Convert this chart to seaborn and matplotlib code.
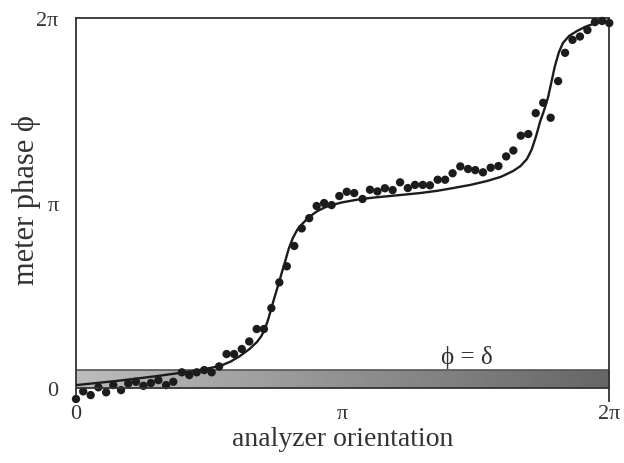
import numpy as np
import pandas as pd
import matplotlib
matplotlib.use("Agg")
import matplotlib.pyplot as plt
import seaborn as sns

# ---- data (angles in units of pi) ----
dot_x = [0.000, 0.027, 0.055, 0.084, 0.113, 0.140, 0.169, 0.196, 0.225, 0.253,
         0.281, 0.309, 0.338, 0.365, 0.397, 0.425, 0.453, 0.481, 0.509, 0.537,
         0.565, 0.593, 0.622, 0.650, 0.678, 0.705, 0.733, 0.763, 0.791, 0.819,
         0.847, 0.875, 0.903, 0.931, 0.959, 0.988, 1.016, 1.044, 1.075, 1.103,
         1.131, 1.159, 1.188, 1.216, 1.245, 1.272, 1.301, 1.328, 1.357, 1.385,
         1.413, 1.442, 1.471, 1.498, 1.527, 1.556, 1.585, 1.614, 1.641, 1.669,
         1.697, 1.725, 1.753, 1.781, 1.809, 1.835, 1.863, 1.891, 1.919, 1.947,
         1.974, 2.001]
dot_y = [-0.059, -0.018, -0.038, 0.004, -0.023, 0.016, -0.011, 0.025, 0.034, 0.012,
         0.027, 0.043, 0.016, 0.034, 0.085, 0.070, 0.085, 0.097, 0.085, 0.117,
         0.184, 0.184, 0.211, 0.252, 0.319, 0.319, 0.432, 0.571, 0.658, 0.768,
         0.863, 0.918, 0.984, 1.000, 0.989, 1.038, 1.061, 1.054, 1.022, 1.072,
         1.063, 1.080, 1.070, 1.112, 1.081, 1.098, 1.098, 1.096, 1.126, 1.126,
         1.161, 1.198, 1.184, 1.178, 1.166, 1.191, 1.200, 1.252, 1.284, 1.364,
         1.373, 1.486, 1.542, 1.461, 1.659, 1.812, 1.882, 1.900, 1.935, 1.978,
         1.984, 1.973]

fit_x = [0.000, 0.150, 0.300, 0.450, 0.540, 0.580, 0.615, 0.650, 0.679, 0.695,
         0.709, 0.722, 0.734, 0.748, 0.762, 0.773, 0.784, 0.798, 0.814, 0.830,
         0.848, 0.875, 0.904, 0.930, 0.953, 1.000, 1.066, 1.120, 1.178, 1.235,
         1.291, 1.355, 1.415, 1.480, 1.542, 1.595, 1.640, 1.668, 1.692, 1.710,
         1.726, 1.741, 1.756, 1.771, 1.784, 1.797, 1.812, 1.827, 1.850, 1.880,
         1.910, 1.940, 1.970, 2.000]
fit_y = [0.016, 0.038, 0.064, 0.094, 0.119, 0.143, 0.173, 0.210, 0.249, 0.280,
         0.319, 0.375, 0.438, 0.505, 0.573, 0.628, 0.681, 0.752, 0.812, 0.855,
         0.886, 0.925, 0.955, 0.974, 0.987, 1.004, 1.021, 1.030, 1.038, 1.046,
         1.054, 1.066, 1.081, 1.098, 1.119, 1.142, 1.173, 1.200, 1.238, 1.290,
         1.360, 1.438, 1.500, 1.570, 1.655, 1.741, 1.815, 1.865, 1.903, 1.930,
         1.952, 1.968, 1.979, 1.986]

delta = 0.097          # band height (units of pi)
major_pos = [0, 0.5, 1, 1.5, 2]
major_labels = ["0", "", "π", "", "2π"]

dots = pd.DataFrame({"x": dot_x, "y": dot_y})
fit = pd.DataFrame({"x": fit_x, "y": fit_y})

sns.set_theme(style="white")
plt.rcParams["font.family"] = ["Liberation Serif", "DejaVu Serif"]

fig = plt.figure(figsize=(6.24, 4.64), dpi=100)
ax = fig.add_axes([0.1218, 0.1336, 0.976 - 0.1218, 0.959 - 0.1336])

ink = "#1c1c1c"
gray = "#333333"

# shaded band phi = delta (gradient)
grad = np.linspace(0.74, 0.40, 256).reshape(1, -1)
ax.imshow(grad, extent=[0, 2, 0, delta], aspect="auto", cmap="gray",
          vmin=0, vmax=1, zorder=1, interpolation="bilinear")
ax.plot([0, 2], [delta, delta], color="#555555", lw=1.2, zorder=2)

sns.lineplot(data=fit, x="x", y="y", ax=ax, color=ink, lw=1.7, sort=False,
             estimator=None, zorder=3, solid_joinstyle="round")
sns.scatterplot(data=dots, x="x", y="y", ax=ax, color=ink, s=36,
                edgecolor="none", zorder=4, clip_on=False)

ax.set_xlim(0, 2)
ax.set_ylim(-0.07, 2)

for s in ["left", "right", "top", "bottom"]:
    ax.spines[s].set_color(gray)
    ax.spines[s].set_linewidth(1.3)
ax.spines["bottom"].set_position(("data", 0))
ax.spines["bottom"].set_zorder(5)

ax.set_xticks(major_pos)
ax.set_xticklabels(major_labels)
ax.set_yticks(major_pos)
ax.set_yticklabels(major_labels)
ax.set_xticks(np.arange(0, 2.01, 0.125), minor=True)
ax.set_yticks(np.arange(0, 2.01, 0.125), minor=True)

ax.tick_params(axis="both", which="major", direction="out", length=8.6,
               width=1.3, color=gray, labelsize=16, labelcolor=gray)
ax.tick_params(axis="both", which="minor", direction="out", length=4.3,
               width=1.3, color=gray)
ax.tick_params(axis="x", which="major", pad=3)
ax.tick_params(axis="y", which="major", pad=4)

ax.set_xlabel("analyzer orientation", fontsize=20, color=gray, labelpad=2)
ax.set_ylabel("meter phase ϕ", fontsize=22, color=gray)
ax.yaxis.set_label_coords(-0.066, 0.527)

ax.text(1.467, 0.168, "ϕ = δ", fontsize=18, color=gray,
        ha="center", va="center", zorder=6)

fig.savefig("out.png", dpi=100)
